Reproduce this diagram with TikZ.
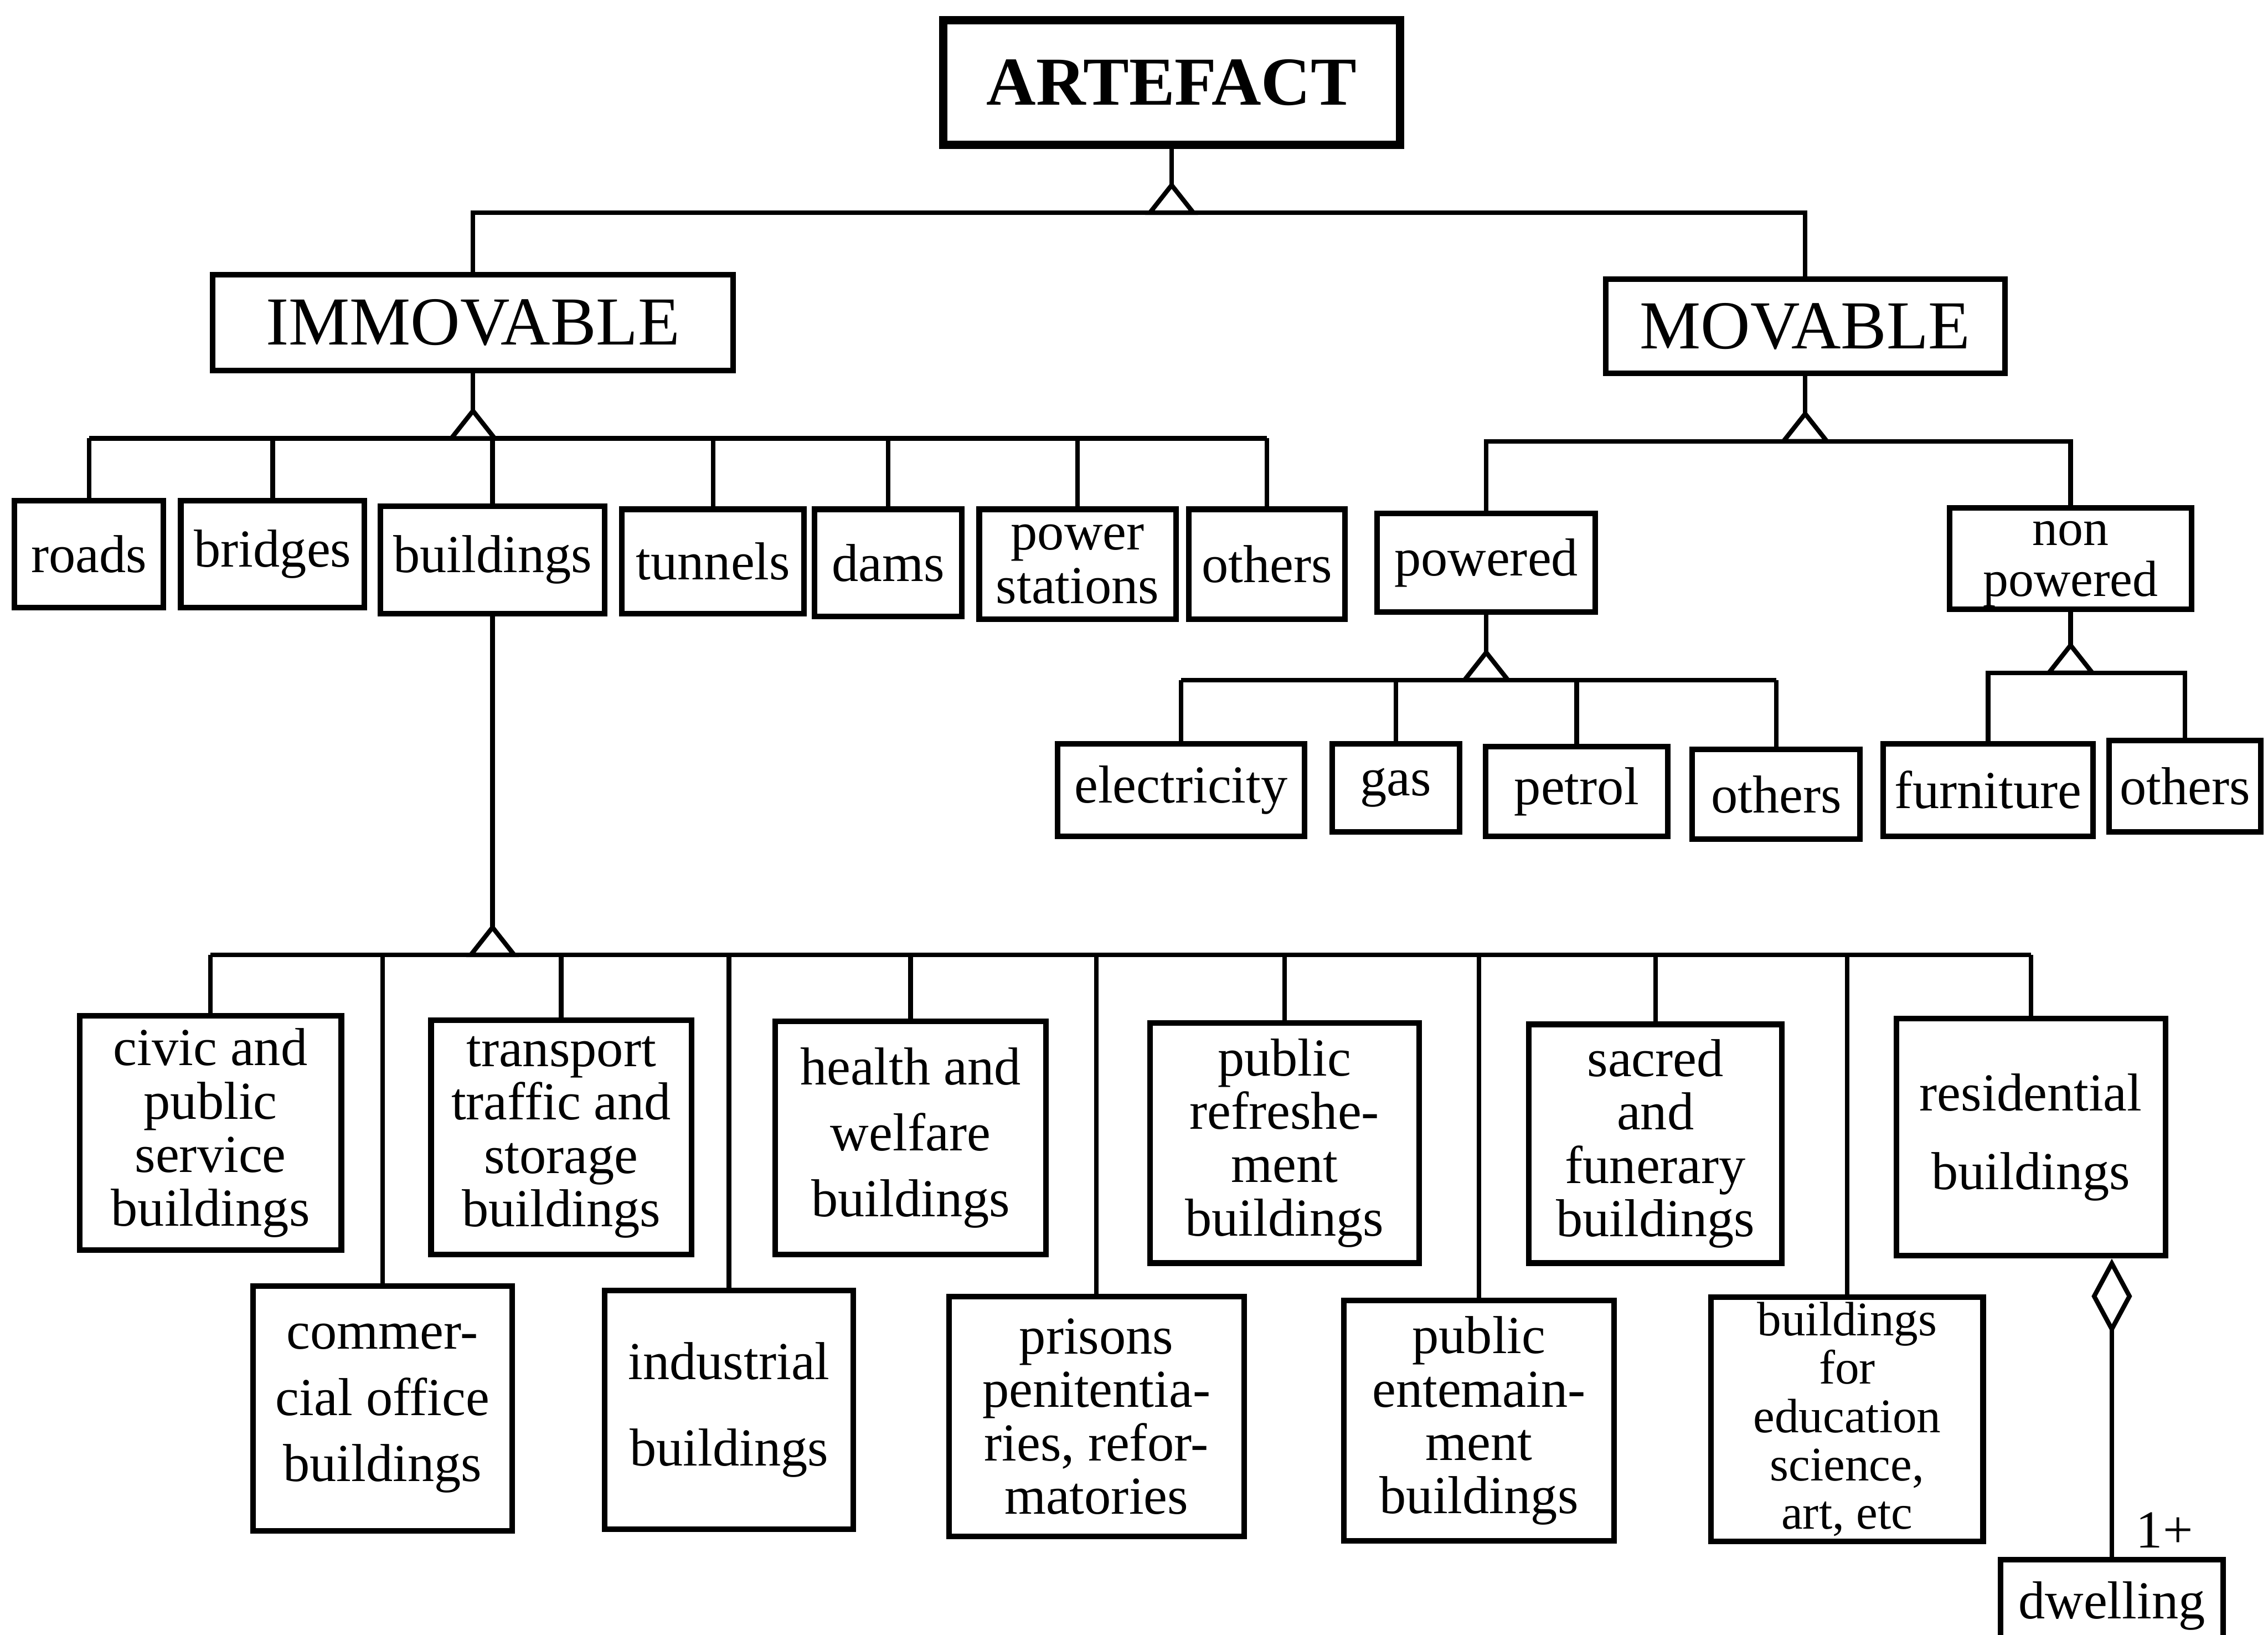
\documentclass[tikz,border=0pt]{standalone}
\usepackage{fontspec}
\setmainfont{Liberation Serif}
\usetikzlibrary{positioning,arrows.meta}

\begin{document}
\begin{tikzpicture}[y=-1cm,
        box/.style={draw, line width=1.1pt, align=center, inner sep=1pt, font=\fontsize{10.5}{10.5}\selectfont},
        head/.style={box, font=\fontsize{13.5}{14}\selectfont},
        boxsize/.style 2 args={minimum width=#1cm, minimum height=#2cm},
        link/.style={line width=0.9pt},
        isa/.pic={\draw[link, fill=white] (-0.15,0) -- (0,-0.19) -- (0.15,0) -- cycle;}
    ]
    \useasboundingbox (0,0) rectangle (15.68,11.30);

    \node[head, line width=1.6pt, boxsize={3.16}{0.86}, font=\fontsize{13.5}{14}\selectfont\bfseries] (artefact) at (8.10,0.57) {ARTEFACT};
    \node[head, boxsize={3.60}{0.66}] (immovable) at (3.27,2.23) {IMMOVABLE};
    \node[head, boxsize={2.76}{0.65}] (movable) at (12.48,2.255) {MOVABLE};

    \node[box, boxsize={1.03}{0.74}] (roads) at (0.615,3.83) {roads};
    \node[box, boxsize={1.27}{0.74}] (bridges) at (1.885,3.83) {bridges};
    \node[box, boxsize={1.55}{0.74}] (buildings) at (3.405,3.87) {buildings};
    \node[box, boxsize={1.26}{0.72}] (tunnels) at (4.93,3.88) {tunnels};
    \node[box, boxsize={1.02}{0.74}] (dams) at (6.14,3.89) {dams};
    \node[box, boxsize={1.36}{0.76}] (power) at (7.45,3.90) {power\\stations};
    \node[box, boxsize={1.08}{0.76}] (otherimm) at (8.76,3.90) {others};

    \node[box, boxsize={1.51}{0.68}] (powered) at (10.275,3.89) {powered};
    \node[box, boxsize={1.67}{0.70}, inner ysep=0pt, font=\fontsize{10}{10}\selectfont] (nonpowered) at (14.315,3.86) {\strut non\\powered};

    \node[box, boxsize={1.71}{0.64}] (electricity) at (8.165,5.46) {electricity};
    \node[box, boxsize={0.88}{0.61}] (gas) at (9.65,5.445) {gas};
    \node[box, boxsize={1.26}{0.62}] (petrol) at (10.90,5.47) {petrol};
    \node[box, boxsize={1.16}{0.62}] (otherpow) at (12.28,5.49) {others};
    \node[box, boxsize={1.45}{0.64}] (furniture) at (13.745,5.46) {furniture};
    \node[box, boxsize={1.05}{0.63}] (othernon) at (15.105,5.435) {others};

    \node[box, boxsize={1.81}{1.62}] (civic) at (1.455,7.83) {civic and\\public\\service\\buildings};
    \node[box, boxsize={1.80}{1.62}] (transport) at (3.88,7.86) {transport\\traffic and\\storage\\buildings};
    \node[box, boxsize={1.87}{1.61}] (health) at (6.295,7.865) {health and\\[2.5pt]welfare\\[2.5pt]buildings};
    \node[box, boxsize={1.86}{1.66}] (refresh) at (8.88,7.90) {public\\refreshe-\\ment\\buildings};
    \node[box, boxsize={1.75}{1.65}] (sacred) at (11.445,7.905) {sacred\\and\\funerary\\buildings};
    \node[box, boxsize={1.86}{1.64}] (residential) at (14.04,7.86) {residential\\[5pt]buildings};

    \node[box, boxsize={1.79}{1.69}] (commercial) at (2.645,9.735) {commer-\\[2.5pt]cial office\\[2.5pt]buildings};
    \node[box, boxsize={1.72}{1.65}] (industrial) at (5.04,9.745) {industrial\\[6.5pt]buildings};
    \node[box, boxsize={2.04}{1.66}] (prisons) at (7.58,9.79) {prisons\\penitentia-\\ries, refor-\\matories};
    \node[box, boxsize={1.87}{1.66}] (entertain) at (10.225,9.82) {public\\entemain-\\ment\\buildings};
    \node[box, boxsize={1.88}{1.66}, font=\fontsize{9.5}{9.5}\selectfont] (education) at (12.77,9.81) {buildings\\for\\education\\science,\\art, etc};

    \node[box, boxsize={1.54}{0.64}] (dwelling) at (14.60,11.10) {dwelling};

    \coordinate (artbus) at (8.10,1.47);
    \coordinate (immbus) at (3.27,3.03);
    \coordinate (movbus) at (12.48,3.05);
    \coordinate (powbus) at (10.275,4.70);
    \coordinate (nonbus) at (14.315,4.65);
    \coordinate (bldbus) at (3.405,6.60);

    \draw[link] (artefact) -- (artbus);
    \draw[link] (immovable.north) |- (artbus) -| (movable.north);

    \draw[link] (immovable) -- (immbus);
    \draw[link] (roads.north |- immbus) -- (otherimm.north |- immbus);
    \foreach \n in {roads,bridges,buildings,tunnels,dams,power,otherimm}
        \draw[link] (\n.north) -- (\n.north |- immbus);

    \draw[link] (movable) -- (movbus);
    \draw[link] (powered.north) |- (movbus) -| (nonpowered.north);

    \draw[link] (powered) -- (powbus);
    \draw[link] (electricity.north |- powbus) -- (otherpow.north |- powbus);
    \foreach \n in {electricity,gas,petrol,otherpow}
        \draw[link] (\n.north) -- (\n.north |- powbus);

    \draw[link] (nonpowered) -- (nonbus);
    \draw[link] (furniture.north) |- (nonbus) -| (othernon.north);

    \draw[link] (buildings) -- (bldbus);
    \draw[link] (civic.north |- bldbus) -- (residential.north |- bldbus);
    \foreach \n in {civic,commercial,transport,industrial,health,prisons,refresh,entertain,sacred,education,residential}
        \draw[link] (\n.north) -- (\n.north |- bldbus);

    \foreach \b in {artbus,immbus,movbus,powbus,nonbus,bldbus}
        \pic at (\b) {isa};

    \draw[link, -{Diamond[open, length=5.2mm, width=2.8mm]}] (dwelling.north) -- (dwelling.north |- residential.south)
        node[pos=0.09, right=1pt, font=\fontsize{10.5}{10.5}\selectfont] {1+};
\end{tikzpicture}
\end{document}
